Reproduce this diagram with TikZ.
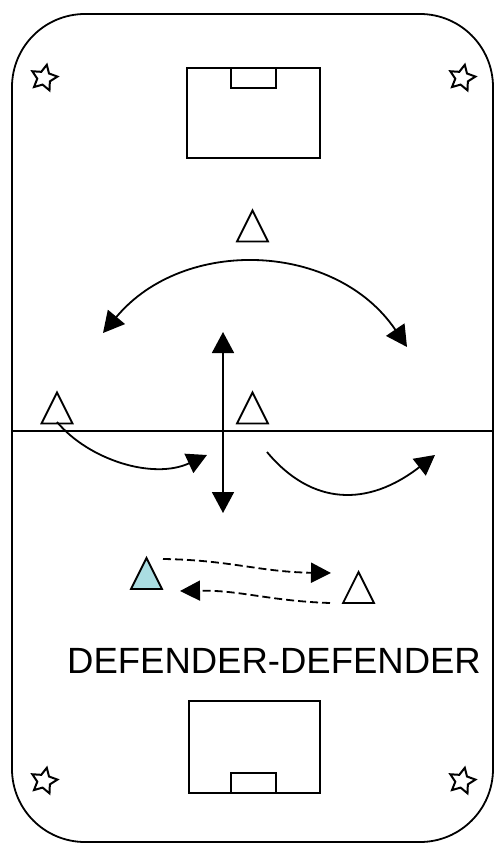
\documentclass[tikz,border=0pt]{standalone}
\usepackage{fontspec}
\setmainfont{Liberation Sans}
\usetikzlibrary{shapes.geometric,arrows.meta}
\definecolor{defblue}{RGB}{170,221,226}
\tikzset{
  ln/.style={line width=1.8pt, line join=miter},
  head/.style={-{Triangle[length=20pt,width=21pt]}},
  dhead/.style={-{Triangle[length=20pt,width=20pt]}},
  dbl/.style={{Triangle[length=21pt,width=22pt]}-{Triangle[length=21pt,width=22pt]}},
  dsh/.style={line width=1.8pt, dash pattern=on 8pt off 4pt},
  cone/.style={draw, star, star points=5, star point ratio=2.0, minimum size=27pt, inner sep=0pt, line width=2pt, rotate=-12},
  pics/player/.style={code={\draw[ln, fill=white] (-15.5,15.5) -- (0,-15.5) -- (15.5,15.5) -- cycle;}},
  pics/dplayer/.style={code={\draw[ln, fill=defblue] (-15.5,15.5) -- (0,-15.5) -- (15.5,15.5) -- cycle;}}
}
\begin{document}
\begin{tikzpicture}[x=1pt,y=-1pt]
\useasboundingbox (0,0) rectangle (494,843);
% pitch outline
\draw[ln, rounded corners=73pt] (12,14) rectangle (493,842);
% halfway line
\draw[ln] (12,431) -- (494,431);
% goal areas
\draw[ln] (187,68) rectangle (320,158);
\draw[ln] (231,68) rectangle (276,88);
\draw[ln] (189,701) rectangle (320,793);
\draw[ln] (231,773) rectangle (276,793);
% corner cones
\node[cone] (s1) at (44,78) {};
\node[cone] (s2) at (462,78) {};
\node[cone] (s3) at (44,781) {};
\node[cone] (s4) at (462,781) {};
% players
\pic at (252.5,226) {player};
\pic at (57,408) {player};
\pic at (252.5,408) {player};
\pic at (146.5,573.5) {dplayer};
\pic at (358.5,587.5) {player};
% arrows
\coordinate (arcL) at (103,333);
\coordinate (arcR) at (407,347);
\draw[ln, dbl] (arcL) .. controls (184,236) and (336,242) .. (arcR);
\coordinate (vT) at (223,332);
\coordinate (vB) at (223,513);
\draw[ln, dbl] (vT) -- (vB);
\coordinate (lS) at (57,422);
\coordinate (lE) at (207,455);
\draw[ln, head] (lS) .. controls (89,460) and (153,480) .. (lE);
\coordinate (rS) at (267,452);
\coordinate (rE) at (435,455);
\draw[ln, head] (rS) .. controls (312,506) and (368,507) .. (rE);
\coordinate (dS) at (163,559);
\coordinate (dE) at (331,573);
\draw[dsh, dhead] (dS) .. controls (230,560) and (260,572) .. (dE);
\coordinate (eS) at (330,603);
\coordinate (eE) at (180,591);
\draw[dsh, dhead] (eS) .. controls (270,601) and (240,590) .. (eE);
% label
\node[anchor=base, inner sep=0pt, font=\fontsize{36.5}{40}\selectfont] (lab) at (274,673) {DEFENDER-DEFENDER};
\end{tikzpicture}
\end{document}
